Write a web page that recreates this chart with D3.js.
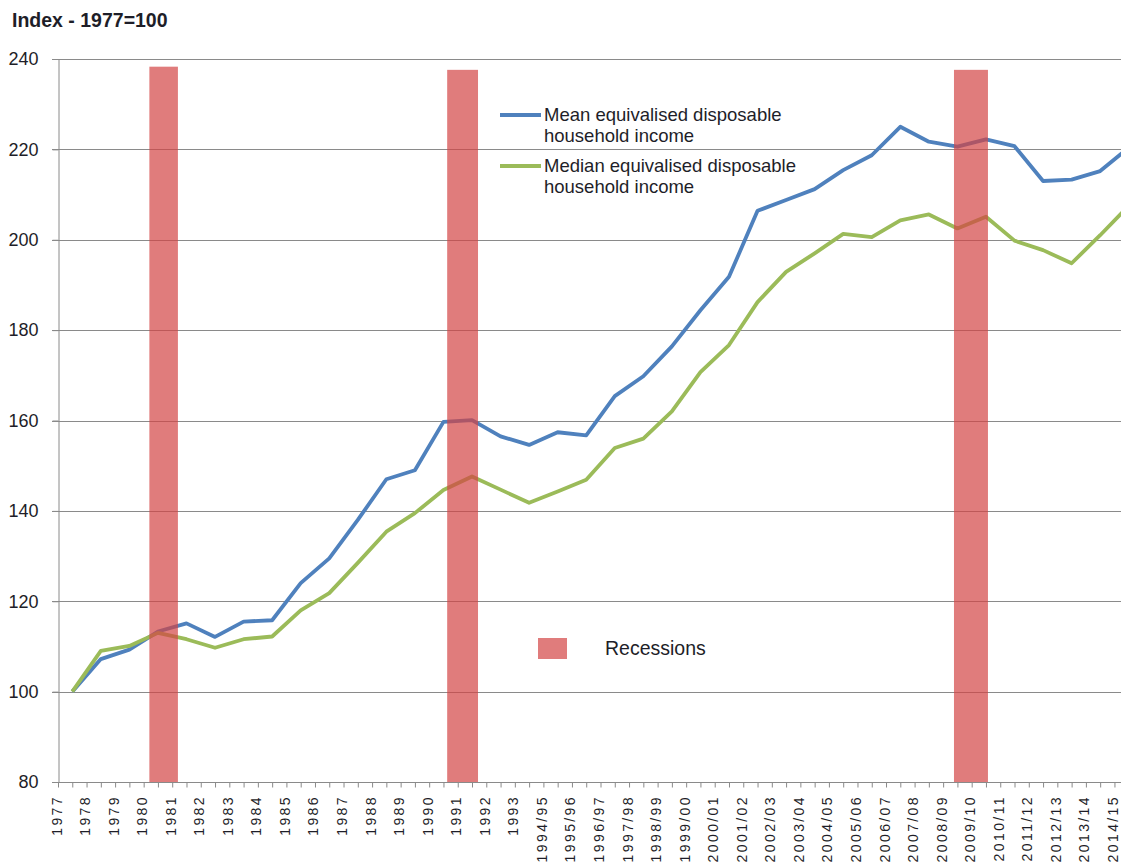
<!DOCTYPE html>
<html>
<head>
<meta charset="utf-8">
<script src="https://cdnjs.cloudflare.com/ajax/libs/d3/7.8.5/d3.min.js"></script>
<style>
  body { margin: 0; background: #fff; }
  svg { display: block; font-family: "Liberation Sans", Arial, sans-serif; }
</style>
</head>
<body>
<div id="chart"></div>
<script>
// categories along the x axis
var years = ["1977","1978","1979","1980","1981","1982","1983","1984","1985","1986",
  "1987","1988","1989","1990","1991","1992","1993","1994/95","1995/96","1996/97",
  "1997/98","1998/99","1999/00","2000/01","2001/02","2002/03","2003/04","2004/05",
  "2005/06","2006/07","2007/08","2008/09","2009/10","2010/11","2011/12","2012/13",
  "2013/14","2014/15"];

var meanIncome = [100, 107.2, 109.3, 113.3, 115.1, 112.1, 115.5, 115.8, 124.0, 129.5,
  138.0, 147.0, 149.0, 159.7, 160.1, 156.5, 154.6, 157.4, 156.7, 165.4,
  169.8, 176.4, 184.4, 191.8, 206.4, 208.8, 211.2, 215.4, 218.7, 225.0,
  221.7, 220.6, 222.2, 220.7, 213.0, 213.3, 215.2, 220.4];

var medianIncome = [100, 109.0, 110.1, 113.0, 111.6, 109.7, 111.6, 112.2, 118.0, 121.8,
  128.5, 135.4, 139.5, 144.6, 147.6, 144.7, 141.8, 144.3, 146.9, 153.9,
  156.0, 162.0, 170.7, 176.7, 186.2, 192.9, 197.0, 201.3, 200.6, 204.3,
  205.6, 202.5, 205.1, 199.8, 197.7, 194.8, 201.0, 207.5];

// recession bands, in category-axis units (0 = left edge of 1977)
var recessionFrom = [3.2, 13.63, 31.38];
var recessionTo = [4.2, 14.71, 32.57];
var recessionTop = [238.3, 237.6, 237.6];

var yTicks = [80, 100, 120, 140, 160, 180, 200, 220, 240];

var width = 1121, height = 863,
    plotLeft = 58, plotRight = 1143,
    plotTop = 59, plotBottom = 782,
    gridColor = '#8a8a8a',
    textColor = '#1e1e28';

var svg = d3.select('#chart').append('svg')
    .attr('width', width)
    .attr('height', height);

var x = d3.scaleLinear().domain([0, years.length]).range([plotLeft, plotRight]);
var y = d3.scaleLinear().domain([80, 240]).range([plotBottom, plotTop]);

// title
svg.append('text')
    .attr('x', 12)
    .attr('y', 27)
    .attr('font-size', 19.5)
    .attr('font-weight', 'bold')
    .attr('fill', textColor)
    .text('Index - 1977=100');

// gridlines
svg.append('g')
    .selectAll('line')
    .data(yTicks.filter(function(d) { return d > 80; }))
    .enter().append('line')
    .attr('x1', plotLeft - 6)
    .attr('x2', width)
    .attr('y1', function(d) { return Math.round(y(d)) + 0.5; })
    .attr('y2', function(d) { return Math.round(y(d)) + 0.5; })
    .attr('stroke', gridColor)
    .attr('stroke-width', 1);

// y axis
var yAxis = svg.append('g')
    .attr('transform', 'translate(' + (plotLeft + 0.5) + ',0)')
    .call(d3.axisLeft(y).tickValues(yTicks).tickSize(6).tickPadding(14));
yAxis.select('.domain').attr('stroke', gridColor);
yAxis.selectAll('.tick line').attr('stroke', gridColor);
yAxis.selectAll('.tick text')
    .attr('font-size', 18)
    .attr('font-family', '"Liberation Sans", Arial, sans-serif')
    .attr('fill', textColor);

// x axis with ticks every half category
var halfTicks = d3.range(0, years.length * 2 + 1).map(function(d) { return d / 2; });
var xAxis = svg.append('g')
    .attr('transform', 'translate(0,' + (plotBottom + 0.5) + ')')
    .call(d3.axisBottom(x).tickValues(halfTicks).tickSize(5).tickFormat(''));
xAxis.select('.domain').attr('stroke', gridColor).attr('d', 'M' + (plotLeft - 6) + ',0H' + plotRight);
xAxis.selectAll('.tick line').attr('stroke', gridColor);

svg.append('g')
    .selectAll('text')
    .data(years)
    .enter().append('text')
    .attr('transform', function(d, i) {
        return 'translate(' + x(i) + ',' + 795 + ') rotate(-90)';
    })
    .attr('text-anchor', 'end')
    .attr('dy', '0.25em')
    .attr('font-size', 14)
    .attr('letter-spacing', 2.4)
    .attr('fill', textColor)
    .text(function(d) { return d; });

// lines
var line = d3.line()
    .x(function(d, i) { return x(i + 0.5); })
    .y(function(d) { return y(d); });

svg.append('path')
    .datum(meanIncome)
    .attr('d', line)
    .attr('fill', 'none')
    .attr('stroke', '#4f81bd')
    .attr('stroke-width', 3.8)
    .attr('stroke-linejoin', 'round');

svg.append('path')
    .datum(medianIncome)
    .attr('d', line)
    .attr('fill', 'none')
    .attr('stroke', '#9bbb59')
    .attr('stroke-width', 3.8)
    .attr('stroke-linejoin', 'round');

// recession bars, drawn over the lines
var barFill = '#d34545', barOpacity = 0.7;
svg.append('g')
    .selectAll('rect')
    .data(recessionFrom)
    .enter().append('rect')
    .attr('x', function(d) { return x(d); })
    .attr('width', function(d, i) { return x(recessionTo[i]) - x(d); })
    .attr('y', function(d, i) { return y(recessionTop[i]); })
    .attr('height', function(d, i) { return plotBottom - y(recessionTop[i]); })
    .attr('fill', barFill)
    .attr('fill-opacity', barOpacity);

// legend
var legend = svg.append('g').attr('font-size', 18.5).attr('fill', textColor);
var legendItems = [
    {color: '#4f81bd', lines: ['Mean equivalised disposable', 'household income'], y: 115},
    {color: '#9bbb59', lines: ['Median equivalised disposable', 'household income'], y: 166}
];
legendItems.forEach(function(item) {
    legend.append('line')
        .attr('x1', 500).attr('x2', 541)
        .attr('y1', item.y).attr('y2', item.y)
        .attr('stroke', item.color)
        .attr('stroke-width', 3.8);
    var t = legend.append('text').attr('x', 544).attr('y', item.y + 6);
    item.lines.forEach(function(l, j) {
        t.append('tspan').attr('x', 544).attr('dy', j === 0 ? 0 : 21).text(l);
    });
});

legend.append('rect')
    .attr('x', 538).attr('y', 638)
    .attr('width', 29).attr('height', 21)
    .attr('fill', barFill)
    .attr('fill-opacity', barOpacity);
legend.append('text')
    .attr('x', 605).attr('y', 655)
    .attr('font-size', 19.5)
    .text('Recessions');
</script>
</body>
</html>
